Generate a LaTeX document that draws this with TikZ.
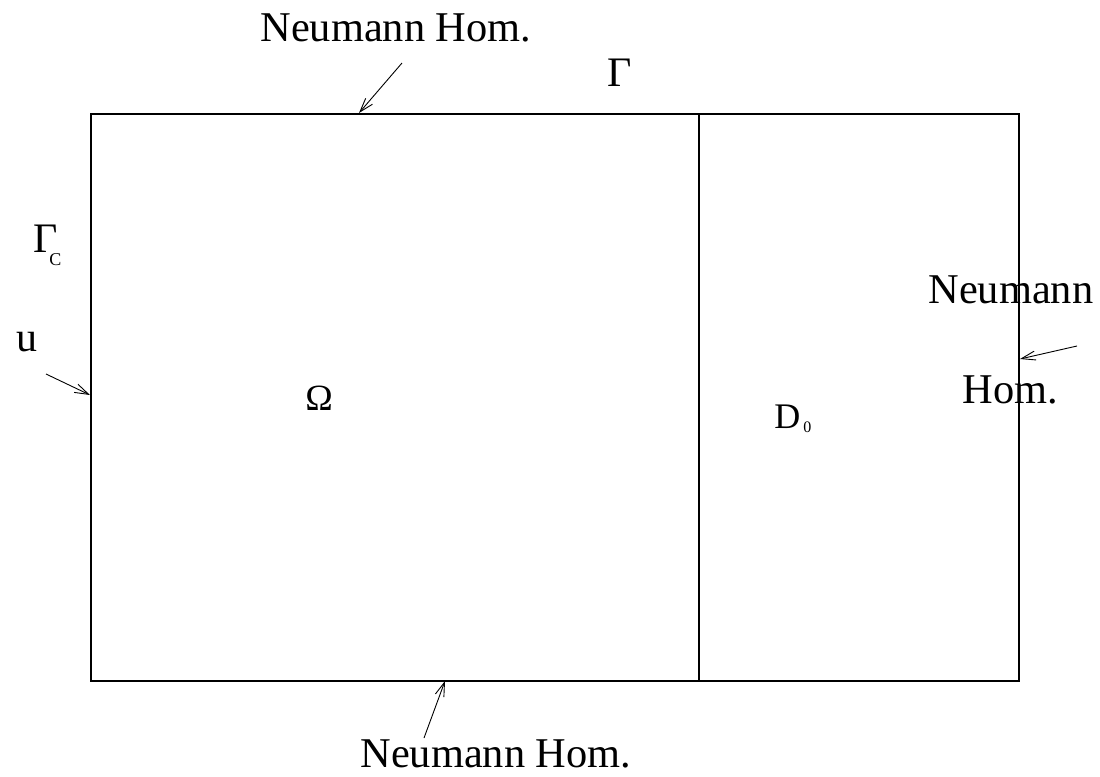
\documentclass[tikz,border=0pt]{standalone}
\usepackage{fontspec}
\setmainfont{Liberation Serif}
\usetikzlibrary{positioning,arrows.meta}

\begin{document}
\begin{tikzpicture}[x=0.5pt,y=-0.5pt,
    every node/.style={inner sep=0pt, anchor=base west},
    lbl/.style={font=\fontsize{21.2}{25}\selectfont},
    sym/.style={font=\fontsize{21}{25}\selectfont},
    sub/.style={font=\fontsize{9}{11}\selectfont},
    wall/.style={draw=black, line width=0.6pt},
    pointer/.style={draw=black, line width=0.45pt,
      -{Straight Barb[length=7pt,width=4.5pt]}}
  ]
  \useasboundingbox (0,0) rectangle (1100,777);
  % domain and the inner wall
  \coordinate (sw) at (91,681);
  \coordinate (ne) at (1019,114);
  \coordinate (dtop) at (699,114);
  \coordinate (dbot) at (699,681);
  \draw[wall] (sw) rectangle (ne);
  \draw[wall] (dtop) -- (dbot);

  % labels
  \node[lbl] (topN) at (260,41) {Neumann Hom.};
  \node[sym] (gam) at (607,86) {Γ};
  \node[sym] (gamc) at (33,252) {Γ};
  \node[sub] (gamcsub) at (49,265) {C};
  \node[sym] (uin) at (16,351) {u};
  \node[font=\fontsize{18.5}{20}\selectfont] (omega) at (305,410) {Ω};
  \node[font=\fontsize{18}{20}\selectfont] (dzero) at (774,428) {D};
  \node[font=\fontsize{8}{9}\selectfont] (dsub) at (803,432) {0};
  \node[lbl] (rightN) at (928,303) {Neumann};
  \node[lbl] (rightH) at (962,403) {Hom.};
  \node[lbl] (botN) at (360,767) {Neumann Hom.};

  % pointers
  \coordinate (topTail) at (402,63);
  \coordinate (topHead) at (359,113);
  \coordinate (uTail) at (46,374);
  \coordinate (uHead) at (90,395);
  \coordinate (rTail) at (1077,346);
  \coordinate (rHead) at (1020,359);
  \coordinate (bTail) at (424,738);
  \coordinate (bHead) at (445,681);
  \draw[pointer] (topTail) -- (topHead);
  \draw[pointer] (uTail) -- (uHead);
  \draw[pointer] (rTail) -- (rHead);
  \draw[pointer] (bTail) -- (bHead);
\end{tikzpicture}
\end{document}
